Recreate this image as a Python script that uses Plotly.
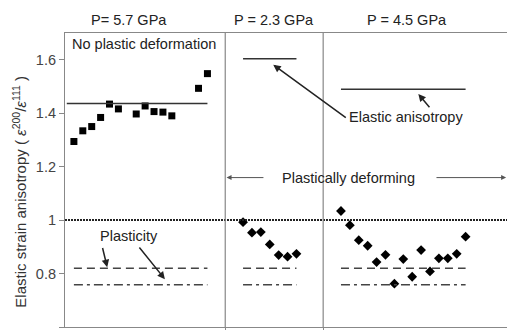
import plotly.graph_objects as go

# Panel 1: P = 5.7 GPa (squares)
p1_idx = [0, 1, 2, 3, 4, 5, 7, 8, 9, 10, 11, 14, 15]
p1_val = [1.294, 1.334, 1.350, 1.384, 1.434, 1.416, 1.397, 1.427, 1.406, 1.404, 1.390, 1.493, 1.548]
# Panel 2: P = 2.3 GPa (diamonds)
p2_idx = [19, 20, 21, 22, 23, 24, 25]
p2_val = [0.992, 0.953, 0.955, 0.909, 0.869, 0.863, 0.874]
# Panel 3: P = 4.5 GPa (diamonds)
p3_idx = list(range(30, 45))
p3_val = [1.034, 0.981, 0.925, 0.904, 0.843, 0.870, 0.762, 0.854, 0.788,
          0.888, 0.808, 0.857, 0.857, 0.874, 0.938]

# Reference levels per panel: (x0, x1, elastic, plastic_dash, plastic_dashdot)
panels = [(0, 15, 1.436, 0.820, 0.758),
          (19, 25, 1.604, 0.820, 0.758),
          (30, 44, 1.490, 0.820, 0.758)]
dividers = [17, 28]
titles = ["P= 5.7 GPa", "P = 2.3 GPa", "P = 4.5 GPa"]
title_x = [6.15, 22.5, 37.4]

FONT = "Liberation Sans, Arial, sans-serif"
TXT = dict(size=14.5, color="#222")
fig = go.Figure()

fig.add_trace(go.Scatter(x=p1_idx, y=p1_val, mode="markers",
                         marker=dict(symbol="square", size=7, color="black"),
                         showlegend=False))
fig.add_trace(go.Scatter(x=p2_idx + p3_idx, y=p2_val + p3_val, mode="markers",
                         marker=dict(symbol="diamond", size=7.5, color="black"),
                         showlegend=False))

shapes = []
shapes.append(dict(type="line", xref="paper", yref="y", x0=0, x1=1, y0=1, y1=1,
                   line=dict(color="#222", width=2, dash="2px,1px")))
for d in dividers:
    shapes.append(dict(type="line", xref="x", yref="paper", x0=d, x1=d, y0=0, y1=1,
                       line=dict(color="#888", width=1.2)))
for i, (a, b, e, pd_, pdd) in enumerate(panels):
    x0 = -0.8 if i == 0 else a
    shapes.append(dict(type="line", x0=x0, x1=b, y0=e, y1=e,
                       line=dict(color="#333", width=1.5)))
    shapes.append(dict(type="line", x0=a, x1=b, y0=pd_, y1=pd_,
                       line=dict(color="#444", width=1.5, dash="8px,5px")))
    shapes.append(dict(type="line", x0=a, x1=b, y0=pdd, y1=pdd,
                       line=dict(color="#444", width=1.5, dash="9px,4px,3px,4px")))

annotations = []
for t, tx in zip(titles, title_x):
    annotations.append(dict(text=t, x=tx, xref="x", y=1.045, yref="paper",
                            xanchor="center", yanchor="middle",
                            showarrow=False, font=TXT))
annotations.append(dict(text="No plastic deformation", x=7.92, y=1.66, showarrow=False, font=TXT))
annotations.append(dict(text="Elastic anisotropy", x=37.3, y=1.387, showarrow=False, font=TXT))
annotations.append(dict(text="Plastically deforming", x=30.9, y=1.157, showarrow=False, font=TXT))
annotations.append(dict(text="Plasticity", x=6.24, y=0.942, showarrow=False, font=TXT))
annotations.append(dict(text="Elastic strain anisotropy ( <i>ε</i><sup>200</sup>/<i>ε</i><sup>111</sup> )",
                        x=-0.102, xref="paper", y=0.46, yref="paper", textangle=-90,
                        xanchor="center", yanchor="middle",
                        showarrow=False, font=dict(size=15, color="#333")))

def arrow(x, y, ax, ay, color="#222", width=1.5, head=2):
    annotations.append(dict(text="", x=x, y=y, ax=ax, ay=ay, axref="x", ayref="y",
                            showarrow=True, arrowhead=head, arrowsize=1,
                            arrowwidth=width, arrowcolor=color))

arrow(22.39, 1.581, 30.71, 1.379)
arrow(38.69, 1.472, 40.08, 1.4165)
arrow(17.15, 1.159, 21.46, 1.159, color="#555", width=1)
arrow(48.55, 1.159, 40.56, 1.159, color="#555", width=1)
arrow(3.74, 0.824, 3.18, 0.901)
arrow(10.22, 0.779, 7.22, 0.903)

fig.update_layout(
    width=507, height=333,
    margin=dict(l=65, r=0, t=33, b=6),
    paper_bgcolor="white", plot_bgcolor="white",
    font=dict(family=FONT, size=13, color="#333"),
    shapes=shapes, annotations=annotations,
    xaxis=dict(range=[-1.0, 48.65], showgrid=False, zeroline=False,
               showline=True, mirror=True, linecolor="#888", linewidth=1.2,
               tickvals=dividers, ticks="outside", ticklen=2, tickcolor="#888",
               showticklabels=False),
    yaxis=dict(range=[0.6, 1.7], showgrid=False, zeroline=False,
               showline=True, linecolor="#888", linewidth=1.2,
               tickvals=[0.6, 0.8, 1.0, 1.2, 1.4, 1.6],
               ticktext=["0.6", "0.8", "1", "1.2", "1.4", "1.6"],
               ticks="outside", ticklen=5, tickcolor="#888",
               tickfont=dict(size=14.5, color="#444"), automargin=False),
)

fig.write_html("out.html", config={"displayModeBar": False},
               post_script="document.body.style.margin='0';")
